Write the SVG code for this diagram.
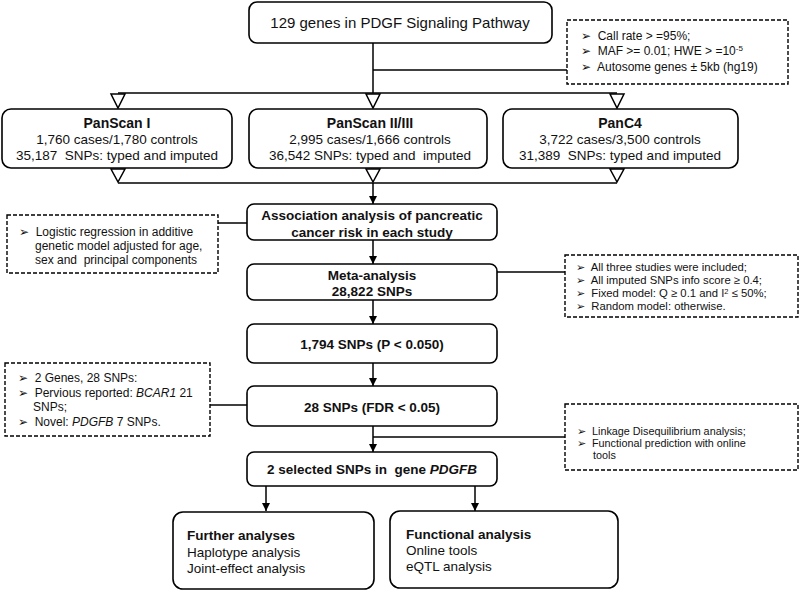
<svg xmlns="http://www.w3.org/2000/svg" width="800" height="591" viewBox="0 0 800 591">
<defs>
<marker id="arr" viewBox="0 0 10 10" refX="10" refY="5" markerWidth="8" markerHeight="8" markerUnits="userSpaceOnUse" orient="auto">
<path d="M0,0 L10,5 L0,10 z" fill="#000"/>
</marker>
<style>
.box{fill:#fff;stroke:#000;stroke-width:1.6}
.dbox{fill:#fff;stroke:#000;stroke-width:1.4;stroke-dasharray:4,2}
.ln{fill:none;stroke:#000;stroke-width:1.5}
.tri{fill:#fff;stroke:#000;stroke-width:1.5}
text{font-family:"Liberation Sans",Arial,sans-serif;fill:#111;white-space:pre}
.t{font-size:13.5px;text-anchor:middle}
.b{font-size:13.5px;font-weight:bold;text-anchor:middle}
.n{font-size:12px}
.c{font-size:11.3px}
.m{font-size:10.8px}
.s{font-size:12px}
.l{font-size:13.5px}
.lb{font-size:13.5px;font-weight:bold}
</style>
</defs>
<g id="connectors">
<path class="ln" d="M373,43 V93"/>
<path class="ln" d="M373,70 H567"/>
<path class="ln" d="M118,93 H617"/>
<path class="ln" d="M118,183 H617"/>
<path class="ln" d="M373,183 V204" marker-end="url(#arr)"/>
<path class="ln" d="M218,223 H247"/>
<path class="ln" d="M373,240 V264" marker-end="url(#arr)"/>
<path class="ln" d="M497,272 H565"/>
<path class="ln" d="M373,300 V324" marker-end="url(#arr)"/>
<path class="ln" d="M373,363 V386" marker-end="url(#arr)"/>
<path class="ln" d="M210,405 H247"/>
<path class="ln" d="M373,426 V452" marker-end="url(#arr)"/>
<path class="ln" d="M373,437 H565"/>
<path class="ln" d="M266,486 V511" marker-end="url(#arr)"/>
<path class="ln" d="M475,486 V511" marker-end="url(#arr)"/>
<polygon class="tri" points="111,94 125,94 118,108"/>
<polygon class="tri" points="366,94 380,94 373,108"/>
<polygon class="tri" points="610,94 624,94 617,108"/>
<polygon class="tri" points="111,169 125,169 118,182"/>
<polygon class="tri" points="366,169 380,169 373,182"/>
<polygon class="tri" points="610,169 624,169 617,182"/>
</g>
<g id="top">
<rect class="box" x="249" y="2" width="303" height="41" rx="8"/>
<text class="t" x="400" y="28" style="font-size:15px">129 genes in PDGF Signaling Pathway</text>
</g>
<g id="qc">
<rect class="dbox" x="567" y="20" width="221" height="64"/>
<text class="n" x="581" y="40">➢  Call rate &gt; =95%;</text>
<text class="n" x="581" y="55">➢  MAF &gt;= 0.01; HWE &gt; =10<tspan dy="-4" style="font-size:8px">-5</tspan></text>
<text class="n" x="581" y="71">➢  Autosome genes ± 5kb (hg19)</text>
</g>
<g id="panscan1">
<rect class="box" x="2" y="109" width="230" height="59" rx="9"/>
<text class="b" x="117" y="128" style="font-size:14px">PanScan I</text>
<text class="t" x="117" y="144">1,760 cases/1,780 controls</text>
<text class="t" x="117" y="160">35,187  SNPs: typed and imputed</text>
</g>
<g id="panscan23">
<rect class="box" x="249" y="109" width="238" height="59" rx="9"/>
<text class="b" x="370" y="128" style="font-size:14px">PanScan II/III</text>
<text class="t" x="370" y="144">2,995 cases/1,666 controls</text>
<text class="t" x="370" y="160">36,542 SNPs: typed and  imputed</text>
</g>
<g id="panc4">
<rect class="box" x="503" y="109" width="235" height="59" rx="9"/>
<text class="b" x="620" y="128" style="font-size:14px">PanC4</text>
<text class="t" x="620" y="144">3,722 cases/3,500 controls</text>
<text class="t" x="620" y="160">31,389  SNPs: typed and imputed</text>
</g>
<g id="logistic">
<rect class="dbox" x="7" y="215" width="211" height="58"/>
<text class="s" x="19" y="236">➢  Logistic regression in additive</text>
<text class="s" x="35" y="250">genetic model adjusted for age,</text>
<text class="s" x="35" y="264">sex and  principal components</text>
</g>
<g id="assoc">
<rect class="box" x="247" y="204" width="250" height="36" rx="7"/>
<text class="b" x="372" y="220">Association analysis of pancreatic</text>
<text class="b" x="372" y="237">cancer risk in each study</text>
</g>
<g id="meta">
<rect class="box" x="247" y="264" width="250" height="36" rx="7"/>
<text class="b" x="372" y="280">Meta-analysis</text>
<text class="b" x="372" y="296">28,822 SNPs</text>
</g>
<g id="metacrit">
<rect class="dbox" x="565" y="255" width="233" height="62"/>
<text class="c" x="576" y="271">➢  All three studies were included;</text>
<text class="c" x="576" y="284">➢  All imputed SNPs info score ≥ 0.4;</text>
<text class="c" x="576" y="297">➢  Fixed model: Q ≥ 0.1 and I<tspan dy="-3" style="font-size:7.5px">2</tspan><tspan dy="3"> ≤ 50%;</tspan></text>
<text class="c" x="576" y="310">➢  Random model: otherwise.</text>
</g>
<g id="p050">
<rect class="box" x="247" y="324" width="250" height="39" rx="7"/>
<text class="b" x="372" y="349">1,794 SNPs (P &lt; 0.050)</text>
</g>
<g id="genes">
<rect class="dbox" x="5" y="363" width="205" height="73"/>
<text class="s" x="18" y="382">➢  2 Genes, 28 SNPs:</text>
<text class="s" x="18" y="397">➢  Pervious reported: <tspan font-style="italic">BCAR1</tspan> 21</text>
<text class="s" x="33" y="411">SNPs;</text>
<text class="s" x="18" y="426">➢  Novel: <tspan font-style="italic">PDGFB</tspan> 7 SNPs.</text>
</g>
<g id="fdr">
<rect class="box" x="247" y="386" width="250" height="40" rx="7"/>
<text class="b" x="372" y="412">28 SNPs (FDR &lt; 0.05)</text>
</g>
<g id="ld">
<rect class="dbox" x="565" y="404" width="233" height="66"/>
<text class="m" x="577" y="435">➢  Linkage Disequilibrium analysis;</text>
<text class="m" x="577" y="447">➢  Functional prediction with online</text>
<text class="m" x="593" y="459">tools</text>
</g>
<g id="selected">
<rect class="box" x="247" y="452" width="250" height="34" rx="7"/>
<text class="b" x="372" y="474">2 selected SNPs in  gene <tspan font-style="italic">PDGFB</tspan></text>
</g>
<g id="further">
<rect class="box" x="173" y="512" width="201" height="77" rx="10"/>
<text class="lb" x="187" y="540">Further analyses</text>
<text class="l" x="187" y="557">Haplotype analysis</text>
<text class="l" x="187" y="573">Joint-effect analysis</text>
</g>
<g id="functional">
<rect class="box" x="390" y="511" width="228" height="77" rx="10"/>
<text class="lb" x="406" y="539">Functional analysis</text>
<text class="l" x="406" y="555">Online tools</text>
<text class="l" x="406" y="571">eQTL analysis</text>
</g>
</svg>
